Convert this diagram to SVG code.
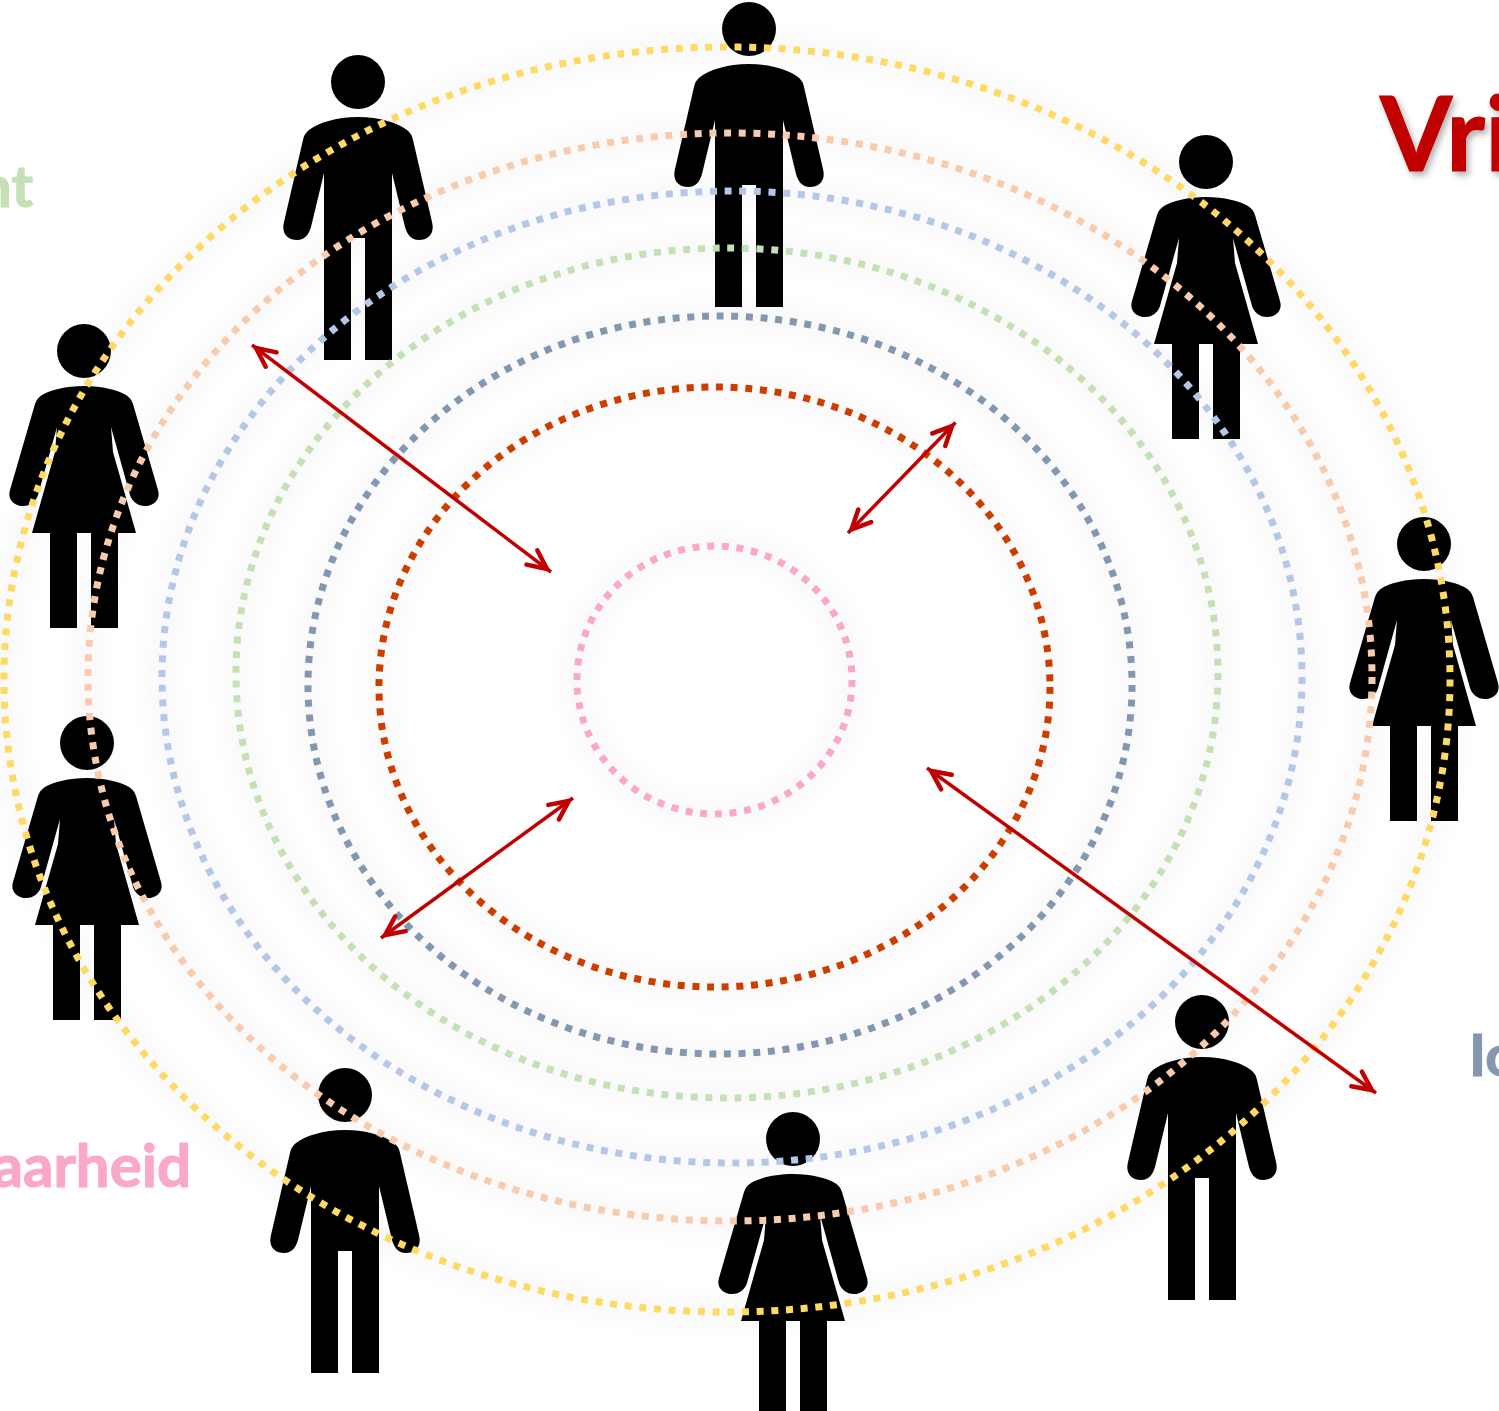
<svg xmlns="http://www.w3.org/2000/svg" width="1499" height="1411" viewBox="0 0 1499 1411">
<style>
.ring{fill:none;stroke-width:7;stroke-dasharray:7 7.700;filter:url(#glow)}
.lab{font-family:"Lato","Liberation Sans",sans-serif;font-weight:700;stroke-width:1.200;stroke-linejoin:round}
.arrow{fill:none;stroke:#C00000;stroke-width:3.500;marker-start:url(#head);marker-end:url(#head)}
</style>
<defs>
<filter id="glow" x="-10%" y="-10%" width="120%" height="120%"><feDropShadow dx="0" dy="0" stdDeviation="12" flood-color="#000" flood-opacity="0.2"/></filter>
<filter id="ts" x="-20%" y="-20%" width="140%" height="140%"><feDropShadow dx="3" dy="4" stdDeviation="3" flood-color="#000" flood-opacity="0.3"/></filter>
<marker id="head" markerUnits="userSpaceOnUse" markerWidth="32" markerHeight="30" refX="28" refY="15" orient="auto-start-reverse" viewBox="0 0 32 30"><path d="M4 6 L23 15 L4 24" fill="none" stroke="#C00000" stroke-width="4.500" stroke-linecap="round" stroke-linejoin="miter"/></marker>
<g id="man"><circle cx="0" cy="0" r="27"/><path d="M0 35C22 35 40 41 49 48Q54 52 55 58L74 140C77 152 70 158 61 158C53 158 49 152 47 145L34 91V278H7V156H-7V278H-34V91L-47 145C-49 152-53 158-61 158C-70 158-77 152-74 140L-55 58Q-54 52-49 48C-40 41-22 35 0 35Z"/></g>
<g id="woman"><circle cx="0" cy="0" r="27"/><path d="M0 35C18 35 34 39 42 44Q47 47 49 53L74 139C77 149 69 155 61 155C53 155 48 150 46 144L27 76L29 101L52 182H34V277H7V182H-7V277H-34V182H-52L-29 101L-27 76L-46 144C-48 150-53 155-61 155C-69 155-77 149-74 139L-49 53Q-47 47-42 44C-34 39-18 35 0 35Z"/></g>
</defs>
<rect width="1499" height="1411" fill="#fff"/>
<g id="person-1"><use href="#man" x="358" y="82"/></g>
<g id="person-2"><use href="#man" x="749" y="29"/></g>
<g id="person-3"><use href="#woman" x="1206" y="162"/></g>
<g id="person-4"><use href="#woman" x="1424" y="544"/></g>
<g id="person-5"><use href="#man" x="1202" y="1022"/></g>
<g id="person-6"><use href="#woman" x="793" y="1139"/></g>
<g id="person-7"><use href="#man" x="345" y="1095"/></g>
<g id="person-8"><use href="#woman" x="87" y="743"/></g>
<g id="person-9"><use href="#woman" x="84" y="351"/></g>
<g id="rings">
<ellipse class="ring" cx="727" cy="679.500" rx="723" ry="632.500" stroke="#FFD966"/>
<ellipse class="ring" cx="730" cy="677" rx="642" ry="544" stroke="#F8CBAD"/>
<ellipse class="ring" cx="732" cy="677" rx="570" ry="486" stroke="#B4C7E7"/>
<ellipse class="ring" cx="727" cy="673" rx="491" ry="425" stroke="#C5E0B4"/>
<ellipse class="ring" cx="720" cy="685" rx="412" ry="369" stroke="#8497B0"/>
<ellipse class="ring" cx="714.500" cy="687" rx="335.500" ry="300" stroke="#CC3C00"/>
<ellipse class="ring" cx="714.500" cy="680" rx="137.500" ry="134" stroke="#F9A8CC"/>
</g>
<g id="connectors">
<line class="arrow" x1="252" y1="345" x2="551" y2="572"/>
<line class="arrow" x1="955.500" y1="422.500" x2="848" y2="533"/>
<line class="arrow" x1="381" y1="938" x2="573" y2="798"/>
<line class="arrow" x1="927" y1="768" x2="1376" y2="1093"/>
</g>
<g id="labels">
<text class="lab" x="1380" y="171" font-size="104" fill="#C00000" stroke="#C00000" filter="url(#ts)">Vri</text>
<text class="lab" x="33" y="207" font-size="58" fill="#C5E0B4" stroke="#C5E0B4" text-anchor="end">nt</text>
<text class="lab" x="191" y="1187" font-size="60" fill="#F9A8CC" stroke="#F9A8CC" text-anchor="end">aarheid</text>
<text class="lab" x="1469" y="1076" font-size="58" fill="#8497B0" stroke="#8497B0">Io</text>
</g>
</svg>
